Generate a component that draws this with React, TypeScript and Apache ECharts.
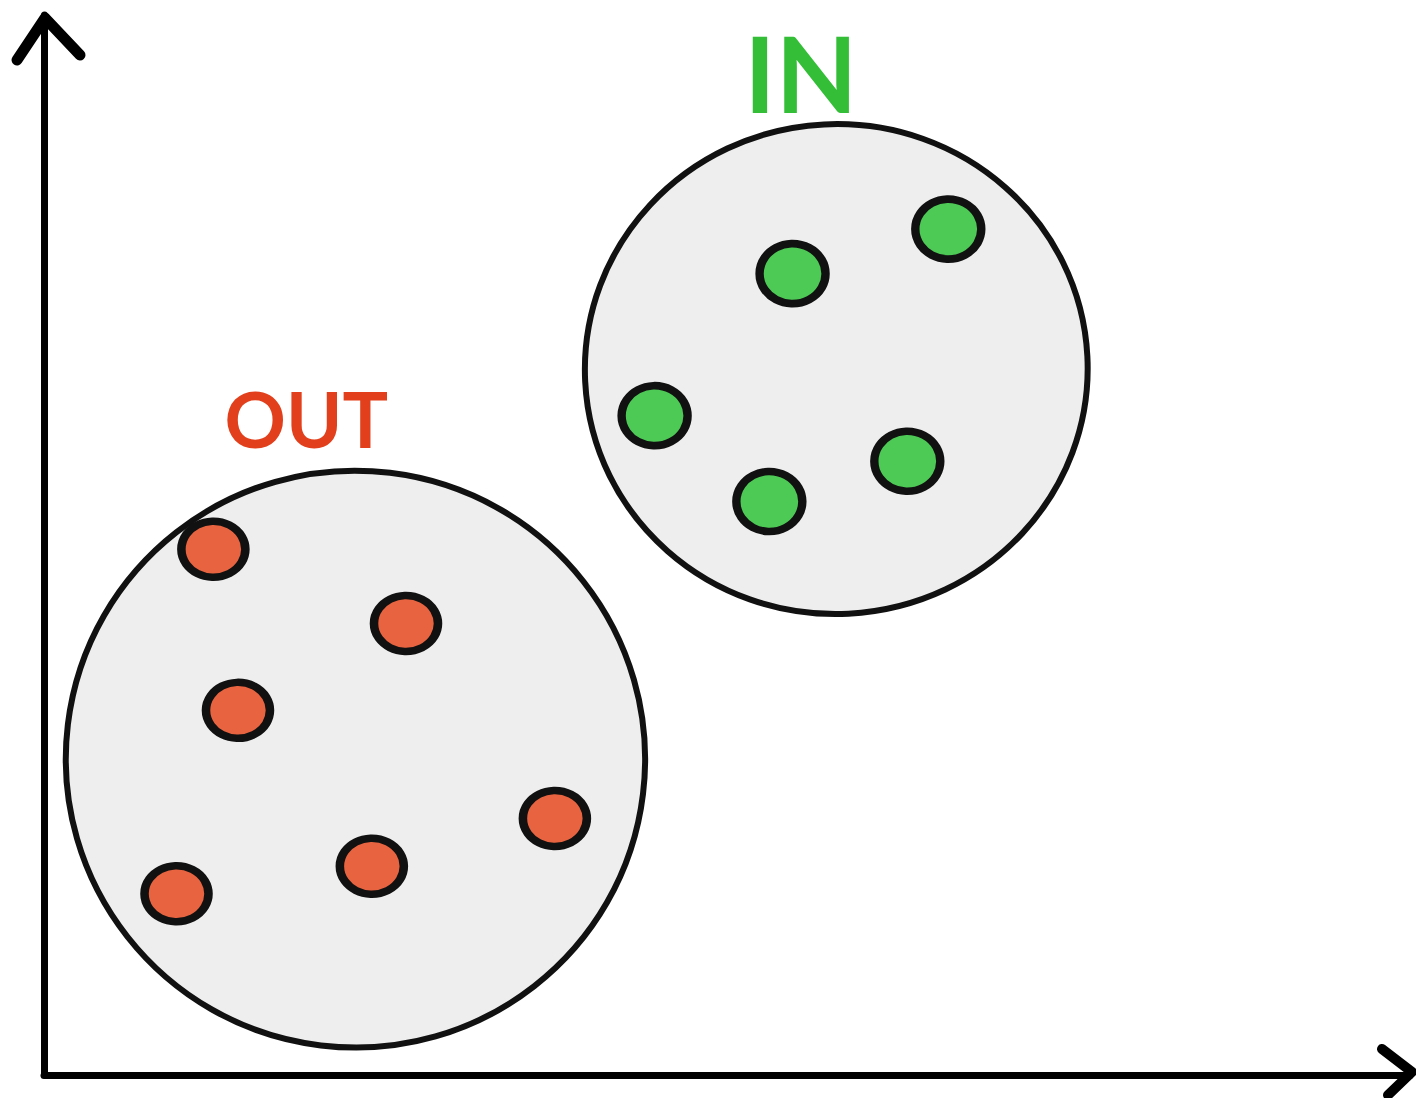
import React, { useEffect, useRef } from "react";
import * as echarts from "echarts";

// Cluster outlines: [centerX, centerY, radiusX, radiusY, rotation]
const clusterNames = ["OUT", "IN"];
const clusterShapes = [
  [22.8, 29.8, 21.2, 27.2, -0.12],
  [58.0, 66.6, 18.4, 23.1, 0.05],
];

// Points outside (red) and inside (green)
const outPoints = [
  [12.4, 49.6],
  [26.5, 42.6],
  [14.2, 34.4],
  [37.4, 24.2],
  [24.0, 19.7],
  [9.7, 17.1],
];
const inPoints = [
  [54.8, 75.6],
  [66.2, 79.8],
  [44.7, 62.2],
  [53.1, 54.1],
  [63.2, 57.9],
];

// Label anchors
const labelPositions = [
  [19.2, 61.9],
  [55.4, 94.6],
];
const labelColors = ["#E2401C", "#34BE37"];
const labelSizes = [76, 106];

export default function App() {
  const ref = useRef<HTMLDivElement>(null);
  useEffect(() => {
    if (!ref.current) return;
    const chart = echarts.init(ref.current, null, { renderer: "svg" });
    const option: any = {
      animation: false,
      backgroundColor: "#ffffff",
      grid: { left: 44, top: 15, width: 1366, bottom: 23 },
      xAxis: {
        type: "value",
        min: 0,
        max: 100,
        axisLine: { show: true, lineStyle: { color: "#000", width: 7, cap: "round" } },
        axisTick: { show: false },
        axisLabel: { show: false },
        splitLine: { show: false },
      },
      yAxis: {
        type: "value",
        min: 0,
        max: 100,
        axisLine: { show: true, lineStyle: { color: "#000", width: 7, cap: "round" } },
        axisTick: { show: false },
        axisLabel: { show: false },
        splitLine: { show: false },
      },
      graphic: [
        {
          type: "polyline",
          shape: { points: [[17, 60], [45, 18], [80, 55]] },
          style: { stroke: "#000", lineWidth: 11, fill: "none", lineCap: "round", lineJoin: "round" },
          z: 100,
        },
        {
          type: "polyline",
          shape: { points: [[1382, 1049], [1412, 1072], [1388, 1095]] },
          style: { stroke: "#000", lineWidth: 10, fill: "none", lineCap: "round", lineJoin: "round" },
          z: 100,
        },
      ],
      series: [
        {
          type: "custom",
          name: "clusters",
          data: clusterShapes.map((c, i) => ({ name: clusterNames[i], value: c })),
          z: 1,
          renderItem: (params: any, api: any) => {
            const c = api.coord([api.value(0), api.value(1)]);
            const s = api.size([api.value(2), api.value(3)]);
            return {
              type: "group",
              x: c[0],
              y: c[1],
              rotation: api.value(4),
              children: [
                {
                  type: "ellipse",
                  shape: { cx: 0, cy: 0, rx: s[0], ry: s[1] },
                  style: { fill: "#EEEEEE", stroke: "#111111", lineWidth: 6 },
                },
              ],
            };
          },
        },
        {
          type: "scatter",
          name: "OUT",
          data: outPoints,
          symbol: "circle",
          symbolSize: [64, 56],
          itemStyle: { color: "#E8633F", borderColor: "#111111", borderWidth: 8, opacity: 1 },
          z: 5,
        },
        {
          type: "scatter",
          name: "IN",
          data: inPoints,
          symbol: "circle",
          symbolSize: [66, 60],
          itemStyle: { color: "#4DC955", borderColor: "#111111", borderWidth: 8, opacity: 1 },
          z: 5,
        },
        {
          type: "scatter",
          name: "labels",
          symbolSize: 0,
          z: 6,
          itemStyle: { opacity: 1 },
          data: labelPositions.map((p, i) => ({
            name: clusterNames[i],
            value: p,
            label: {
              show: true,
              position: "inside",
              formatter: "{b}",
              color: labelColors[i],
              fontSize: labelSizes[i],
              fontFamily: "Lato",
              fontWeight: "bold",
            },
          })),
        },
      ],
    };
    chart.setOption(option);
    return () => chart.dispose();
  }, []);
  return (
    <div
      ref={ref}
      style={{ position: "fixed", left: 0, top: 0, width: 1416, height: 1098 }}
    />
  );
}
